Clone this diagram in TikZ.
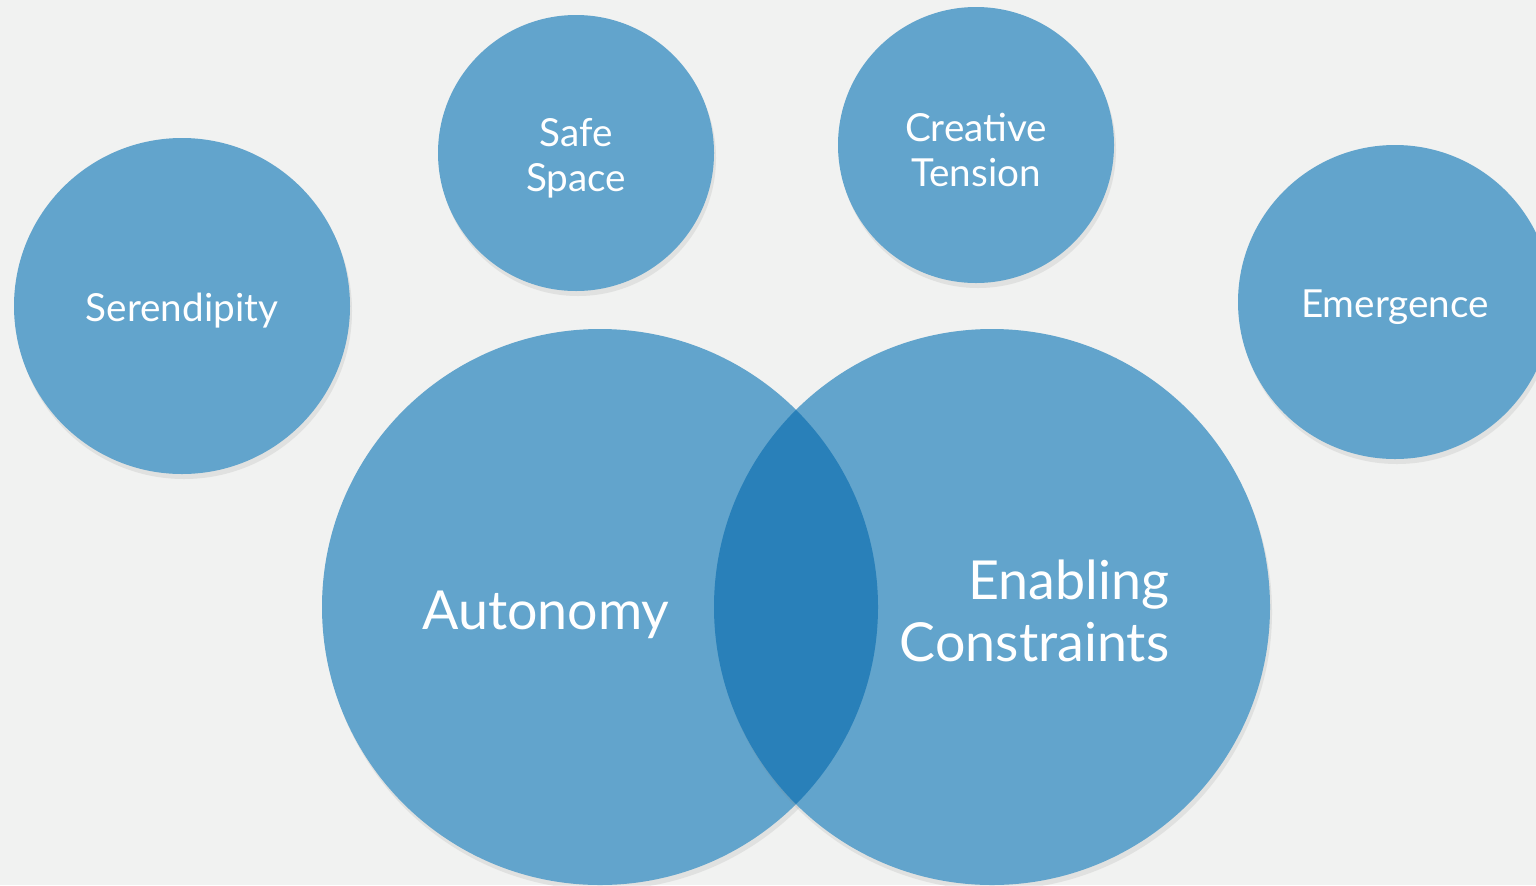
\documentclass[tikz,border=0pt]{standalone}
\usepackage{fontspec}
\setmainfont{Lato}
\usepackage{tikz}
\usetikzlibrary{ shadows,     % For the soft shadow under the bubbles
                 positioning, % For easy node-relative placements
               }
\definecolor{bgcol}{HTML}{F1F2F1}
\definecolor{bubblecol}{HTML}{62A4CC}
\definecolor{overlapcol}{HTML}{2980B9}

\begin{document}
\begin{tikzpicture}[scale=1,
    bubble/.style={circle, fill=bubblecol, inner sep=0pt, outer sep=0pt,
                   drop shadow={opacity=0.15, shadow xshift=0.02, shadow yshift=-0.05}},
    small/.style={text=white, align=center, yshift=-1.4pt,
                  font=\fontsize{11}{12.8}\selectfont},
    big/.style={text=white, inner sep=0pt, font=\fontsize{15.3}{17.6}\selectfont}
  ]
    \useasboundingbox[fill=bgcol] (0,0) rectangle (15.36,8.85);
    \node[bubble, minimum size=3.36cm, label={[small]center:Serendipity}] (ser) at (1.82,5.79) {};
    \node[bubble, minimum size=2.76cm, label={[small]center:Safe\\Space}] (safe) at (5.76,7.32) {};
    \node[bubble, minimum size=2.76cm, label={[small]center:Creative\\Tension}] (creat) at (9.76,7.40) {};
    \node[bubble, minimum size=3.14cm, label={[small]center:Emergence}] (emerg) at (13.95,5.83) {};
    \node[bubble, minimum size=5.56cm] (auto) at (6.00,2.78) {};
    \node[bubble, minimum size=5.56cm] (enab) at (9.92,2.78) {};
    % the overlap of the two big ones
    \begin{scope}
      \clip (auto.center) circle (2.78);
      \fill[overlapcol] (enab.center) circle (2.78);
    \end{scope}
    \node[big] (autotxt) at (5.46,2.70) {Autonomy};
    \node[big, align=right, anchor=east] (enabtxt) at (11.70,2.74) {Enabling\\Constraints};
  \end{tikzpicture}
\end{document}
